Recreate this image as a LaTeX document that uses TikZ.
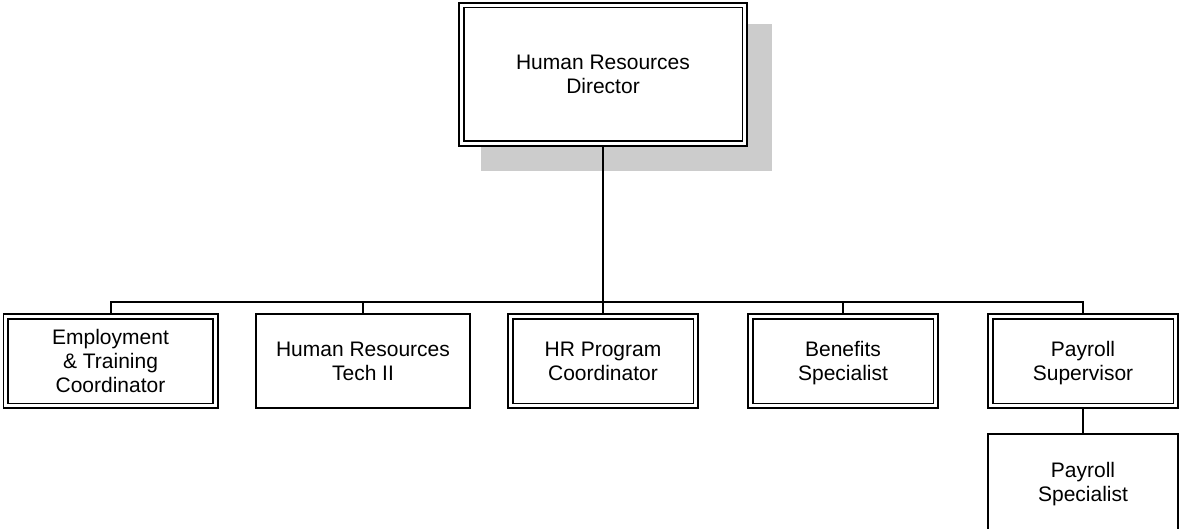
\documentclass[tikz,border=0pt]{standalone}
\usepackage{fontspec}
\setmainfont{Liberation Sans}
\usetikzlibrary{positioning}

\begin{document}
\begin{tikzpicture}[x=1pt, y=-1pt,
  every node/.style={align=center, text depth=0pt, font=\fontsize{21}{24}\selectfont},
  dbox/.style={draw, double, line width=1.6pt, double distance=3.3pt, outer sep=3.25pt, inner sep=0pt},
  sbox/.style={draw, line width=2pt, inner sep=0pt},
  link/.style={line width=2pt}]

 \useasboundingbox (0,0) rectangle (1180,529);

 %shadow
 \fill[black!20] (481,24) rectangle (772,171);
 \node[dbox, fill=white, minimum width=283.5pt, minimum height=138.5pt] (Dir) at (603,74.5) {Human Resources\\Director};

 %level 2
 \node[dbox, minimum width=209.5pt, minimum height=89.5pt] (Emp) at (110.5,361) {Employment\\\& Training\\Coordinator};
 \node[sbox, minimum width=214pt, minimum height=94pt] (Tech) at (363,361) {Human Resources\\Tech II};

 \foreach \x/\name/\txt in {603/Prog/{HR Program\\Coordinator}, 843/Ben/{Benefits\\Specialist}, 1083/Pay/{Payroll\\Supervisor}} {
         \node[dbox, minimum width=185.5pt, minimum height=89.5pt] (\name) at (\x,361) {\txt};
 }

 %level 3
 \node[sbox, minimum width=190pt, minimum height=96pt] (PaySp) at (1083,482) {Payroll\\Specialist};

 %links
 \coordinate (bar) at (603,302);
 \foreach \name in {Emp, Tech, Prog, Ben, Pay} {
         \draw[link] (Dir.south) |- (bar -| \name.north) -- (\name.north);
 }
 \draw[link] (Pay.south) -- (PaySp.north);

\end{tikzpicture}
\end{document}
